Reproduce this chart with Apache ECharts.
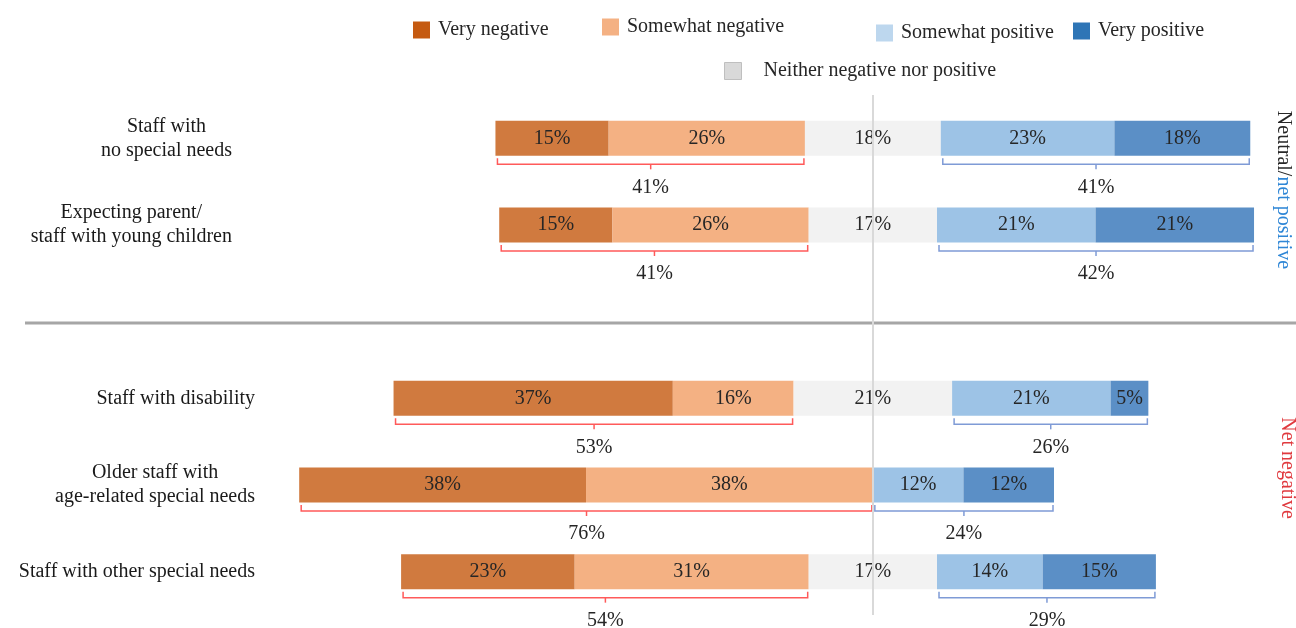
<!DOCTYPE html>
<html>
<head>
<meta charset="utf-8">
<script src="https://cdn.jsdelivr.net/npm/echarts@6/dist/echarts.min.js"></script>
<style>
html,body{margin:0;padding:0;background:#fff;}
#chart{width:1296px;height:628px;}
</style>
</head>
<body>
<div id="chart"></div>
<script>
// ---- data ----
const categories = [
  'Staff with\nno special needs',
  'Expecting parent/\nstaff with young children',
  '',
  'Staff with disability',
  'Older staff with\nage-related special needs',
  'Staff with other special needs'
];
const veryNegative     = [15, 15, null, 37, 38, 23];
const somewhatNegative = [26, 26, null, 16, 38, 31];
const neutral          = [18, 17, null, 21, 0, 17];
const somewhatPositive = [23, 21, null, 21, 12, 14];
const veryPositive     = [18, 21, null, 5, 12, 15];
const seriesNames = ['Very negative', 'Somewhat negative', 'Neither negative nor positive', 'Somewhat positive', 'Very positive'];

// ---- styling ----
const FONT = '"Liberation Serif", "Times New Roman", serif';
const barColors = ['#D07A3F', '#F4B183', '#F2F2F2', '#9DC3E6', '#5B8FC6'];
const legendColors = ['#C55A11', '#F4B183', '#D9D9D9', '#BDD7EE', '#2E75B6'];
const RED = '#FF5A5A', BLUE = '#7F9BD6';

// derived
const offsets = categories.map((c, i) => veryNegative[i] == null ? '-' :
  -(neutral[i] / 2 + somewhatNegative[i] + veryNegative[i]));
const bracketData = [];
categories.forEach((c, i) => {
  if (veryNegative[i] == null) return;
  const h = neutral[i] / 2;
  bracketData.push([i, -(h + somewhatNegative[i] + veryNegative[i]), -h, somewhatNegative[i] + veryNegative[i], 0]);
  bracketData.push([i, h, h + somewhatPositive[i] + veryPositive[i], somewhatPositive[i] + veryPositive[i], 1]);
});
const nz = a => a.map(v => v == null ? '-' : v);

const chart = echarts.init(document.getElementById('chart'));

function barSeries(idx, data) {
  return {
    name: seriesNames[idx], type: 'bar', stack: 'all', stackStrategy: 'all',
    barWidth: 35, data: nz(data),
    itemStyle: { color: barColors[idx] },
    label: {
      show: true, position: 'inside', fontFamily: FONT, fontSize: 20, color: '#262626',
      formatter: p => (p.value ? p.value + '%' : '')
    },
    emphasis: { disabled: true }
  };
}

function legendAt(idx, left, top, extraPad) {
  return {
    data: [{ name: seriesNames[idx], itemStyle: idx === 2 ? { color: legendColors[idx], borderColor: '#BFBFBF', borderWidth: 1 } : { color: legendColors[idx] } }],
    left: left, top: top, icon: 'rect', itemWidth: 17, itemHeight: 17, selectedMode: false,
    padding: 0,
    textStyle: { fontFamily: FONT, fontSize: 20, color: '#262626', padding: [0, 0, 0, extraPad || 3] }
  };
}

chart.setOption({
  animation: false,
  backgroundColor: '#fff',
  grid: { left: 269, right: 8, top: 95, bottom: 13, containLabel: false },
  legend: [
    legendAt(0, 413, 20),
    legendAt(1, 602, 17),
    legendAt(3, 876, 23),
    legendAt(4, 1073, 21),
    legendAt(2, 724, 61, 17)
  ],
  xAxis: { type: 'value', min: -80, max: 55, show: false },
  yAxis: {
    type: 'category', inverse: true,
    data: categories.map((c, i) => i < 2 ? { value: c, textStyle: { padding: [0, 23, 0, 0] } } : c),
    axisLine: { show: false }, axisTick: { show: false }, splitLine: { show: false },
    axisLabel: {
      margin: 14,
      formatter: v => v.split('\n').map(s => '{c|' + s + '}').join('\n'),
      rich: { c: { fontFamily: FONT, fontSize: 20, color: '#1a1a1a', align: 'center', lineHeight: 24 } }
    }
  },
  graphic: [
    { type: 'line', shape: { x1: 25, y1: 323, x2: 1296, y2: 323 }, style: { stroke: '#A6A6A6', lineWidth: 3 }, silent: true },
    { type: 'text', x: 1283, y: 190, rotation: -Math.PI / 2,
      style: { text: '{k|Neutral/}{b|net positive}', align: 'center', verticalAlign: 'middle',
        rich: { k: { fontFamily: FONT, fontSize: 20, fill: '#262626' }, b: { fontFamily: FONT, fontSize: 20, fill: '#2E86D6' } } } },
    { type: 'text', x: 1287, y: 468, rotation: -Math.PI / 2,
      style: { text: 'Net negative', align: 'center', verticalAlign: 'middle', font: '20px ' + FONT, fill: '#E0393E' } }
  ],
  series: [
    {
      name: 'offset', type: 'bar', stack: 'all', stackStrategy: 'all', barWidth: 35,
      data: offsets, itemStyle: { color: 'rgba(0,0,0,0)' }, silent: true,
      emphasis: { disabled: true },
      markLine: {
        silent: true, symbol: 'none', label: { show: false },
        lineStyle: { color: '#D9D9D9', width: 2, type: 'solid' },
        data: [{ xAxis: 0 }]
      }
    },
    barSeries(0, veryNegative),
    barSeries(1, somewhatNegative),
    barSeries(2, neutral),
    barSeries(3, somewhatPositive),
    barSeries(4, veryPositive),
    {
      type: 'custom', name: 'brackets', silent: true,
      encode: { x: [1, 2], y: 0 },
      data: bracketData,
      renderItem: (params, api) => {
        const cat = api.value(0);
        const p1 = api.coord([api.value(1), cat]);
        const p2 = api.coord([api.value(2), cat]);
        const y = p1[1] + 26;
        const color = api.value(4) === 0 ? RED : BLUE;
        const x1 = p1[0] + 2, x2 = p2[0] - 1;
        const mid = (x1 + x2) / 2;
        return {
          type: 'group', children: [
            { type: 'polyline', shape: { points: [[x1, y - 6], [x1, y], [x2, y], [x2, y - 6]] },
              style: { stroke: color, fill: null, lineWidth: 1.5 } },
            { type: 'line', shape: { x1: mid, y1: y, x2: mid, y2: y + 5 }, style: { stroke: color, lineWidth: 1.5 } },
            { type: 'text', style: { text: api.value(3) + '%', x: mid, y: y + 23, align: 'center', verticalAlign: 'middle',
                font: '20px ' + FONT, fill: '#262626' } }
          ]
        };
      }
    }
  ]
});
</script>
</body>
</html>
